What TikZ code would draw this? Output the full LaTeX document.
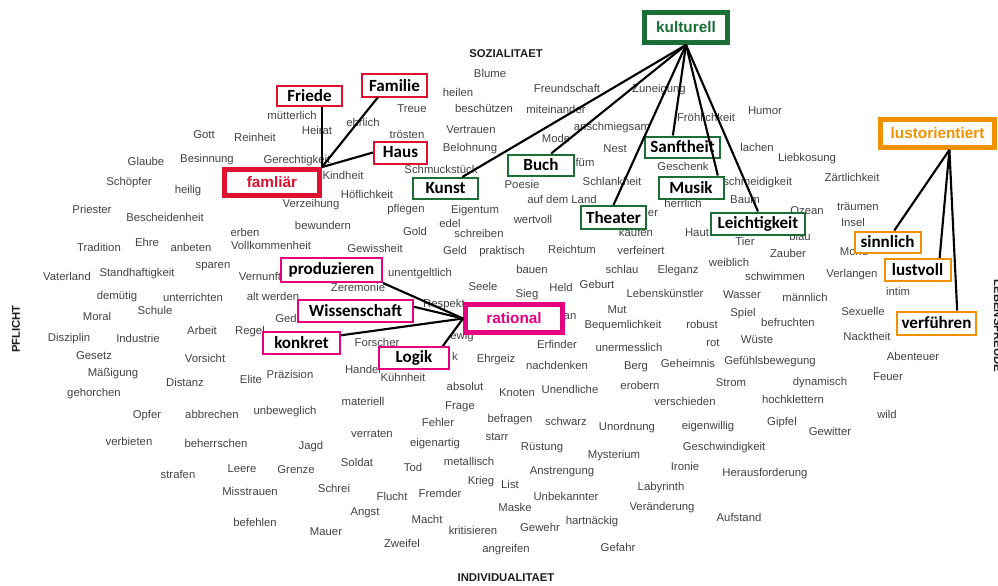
\documentclass[tikz,border=0pt]{standalone}
\usepackage{fontspec}
\setmainfont{Liberation Sans}
\newfontfamily\labfont{Carlito}
\usetikzlibrary{calc}
\definecolor{wgrey}{RGB}{66,66,66}
\definecolor{hdr}{RGB}{30,30,30}
\definecolor{kgreen}{RGB}{28,110,55}
\definecolor{fred}{RGB}{222,18,48}
\definecolor{fmag}{RGB}{228,0,128}
\definecolor{forg}{RGB}{240,145,0}
\tikzset{
 w/.style={font=\fontsize{8.5}{9}\selectfont, text=wgrey, inner sep=0pt, text height=6.3pt, text depth=1.8pt},
 hd/.style={font=\bfseries\fontsize{8.5}{9}\selectfont, text=hdr, inner sep=0pt},
 lab/.style n args={3}{draw=#1, fill=white, line width=1.5pt, inner sep=0pt, font=\labfont\bfseries\fontsize{12.8}{14}\selectfont, text=black, minimum width=#2*0.75pt, minimum height=#3*0.75pt},
 big/.style n args={3}{draw=#1, fill=white, line width=3.6pt, inner sep=0pt, font=\bfseries\fontsize{11.5}{13}\selectfont, text=#1, minimum width=#2*0.75pt, minimum height=#3*0.75pt},
 con/.style={line width=1.6pt, black},
}
\begin{document}
\begin{tikzpicture}[x=0.75pt,y=-0.75pt]
\useasboundingbox (0,0) rectangle (998,585);
% headers
\node[hd] (h1) at (506,54) {SOZIALITAET};
\node[hd] (h2) at (506,578) {INDIVIDUALITAET};
\node[hd,rotate=90] (h3) at (16,329) {PFLICHT};
\node[hd,rotate=-90] (h4) at (998,326) {LEBENSFREUDE};
% words
\node[w] (w1) at (490,75) {Blume};
\node[w] (w2) at (458,93) {heilen};
\node[w] (w3) at (567,89) {Freundschaft};
\node[w] (w4) at (659,90) {Zuneigung};
\node[w] (w5) at (484,109) {beschützen};
\node[w] (w6) at (556,110) {miteinander};
\node[w] (w7) at (412,109) {Treue};
\node[w] (w8) at (292,116) {mütterlich};
\node[w] (w9) at (317,131) {Heirat};
\node[w] (w10) at (363,123) {ehrlich};
\node[w] (w11) at (471,130) {Vertrauen};
\node[w] (w12) at (612,127) {anschmiegsam};
\node[w] (w13) at (706,118) {Fröhlichkeit};
\node[w] (w14) at (765,111) {Humor};
\node[w] (w15) at (204,135) {Gott};
\node[w] (w16) at (255,138) {Reinheit};
\node[w] (w17) at (407,135) {trösten};
\node[w] (w18) at (470,148) {Belohnung};
\node[w] (w19) at (556,139) {Mode};
\node[w] (w20) at (615,149) {Nest};
\node[w] (w21) at (757,148) {lachen};
\node[w] (w22) at (807,158) {Liebkosung};
\node[w] (w23) at (146,162) {Glaube};
\node[w] (w24) at (207,159) {Besinnung};
\node[w] (w25) at (297,160) {Gerechtigkeit};
\node[w] (w26) at (441,170) {Schmuckstück};
\node[w] (w27) at (585,163) {füm};
\node[w] (w28) at (683,167) {Geschenk};
\node[w] (w29) at (852,178) {Zärtlichkeit};
\node[w] (w30) at (129,182) {Schöpfer};
\node[w] (w31) at (188,190) {heilig};
\node[w] (w32) at (343,176) {Kindheit};
\node[w] (w33) at (367,195) {Höflichkeit};
\node[w] (w34) at (522,185) {Poesie};
\node[w] (w35) at (612,182) {Schlankheit};
\node[w,anchor=west] (w36) at (723,182) {schmeidigkeit};
\node[w] (w37) at (92,210) {Priester};
\node[w] (w38) at (165,218) {Bescheidenheit};
\node[w] (w39) at (311,204) {Verzeihung};
\node[w] (w40) at (406,209) {pflegen};
\node[w] (w41) at (475,210) {Eigentum};
\node[w] (w42) at (562,200) {auf dem Land};
\node[w] (w43) at (533,220) {wertvoll};
\node[w] (w44) at (450,224) {edel};
\node[w] (w45) at (745,200) {Baum};
\node[w] (w46) at (683,204) {herrlich};
\node[w] (w47) at (807,211) {Ozean};
\node[w] (w48) at (858,207) {träumen};
\node[w] (w49) at (853,223) {Insel};
\node[w] (w50) at (800,237) {blau};
\node[w] (w51) at (745,242) {Tier};
\node[w] (w52) at (788,254) {Zauber};
\node[w] (w53) at (854,252) {Mond};
\node[w] (w54) at (729,263) {weiblich};
\node[w] (w55) at (775,277) {schwimmen};
\node[w] (w56) at (852,274) {Verlangen};
\node[w] (w57) at (898,292) {intim};
\node[w] (w58) at (742,295) {Wasser};
\node[w] (w59) at (805,298) {männlich};
\node[w] (w60) at (863,312) {Sexuelle};
\node[w] (w61) at (743,313) {Spiel};
\node[w] (w62) at (788,323) {befruchten};
\node[w] (w63) at (757,340) {Wüste};
\node[w] (w64) at (867,337) {Nacktheit};
\node[w] (w65) at (913,357) {Abenteuer};
\node[w] (w66) at (770,361) {Gefühlsbewegung};
\node[w] (w67) at (888,377) {Feuer};
\node[w] (w68) at (731,383) {Strom};
\node[w] (w69) at (820,382) {dynamisch};
\node[w] (w70) at (793,400) {hochklettern};
\node[w] (w71) at (887,415) {wild};
\node[w] (w72) at (782,422) {Gipfel};
\node[w] (w73) at (830,432) {Gewitter};
\node[w] (w74) at (708,426) {eigenwillig};
\node[w] (w75) at (724,447) {Geschwindigkeit};
\node[w] (w76) at (765,473) {Herausforderung};
\node[w] (w77) at (739,518) {Aufstand};
\node[w] (w78) at (245,233) {erben};
\node[w] (w79) at (323,226) {bewundern};
\node[w] (w80) at (415,232) {Gold};
\node[w] (w81) at (479,234) {schreiben};
\node[w] (w82) at (99,248) {Tradition};
\node[w] (w83) at (147,243) {Ehre};
\node[w] (w84) at (191,248) {anbeten};
\node[w] (w85) at (271,246) {Vollkommenheit};
\node[w] (w86) at (375,249) {Gewissheit};
\node[w] (w87) at (455,251) {Geld};
\node[w] (w88) at (502,251) {praktisch};
\node[w] (w89) at (572,250) {Reichtum};
\node[w] (w90) at (641,251) {verfeinert};
\node[w] (w91) at (636,233) {kaufen};
\node[w] (w92) at (697,233) {Haut};
\node[w] (w93) at (653,213) {er};
\node[w] (w94) at (213,265) {sparen};
\node[w] (w95) at (67,277) {Vaterland};
\node[w] (w96) at (137,273) {Standhaftigkeit};
\node[w] (w97) at (260,277) {Vernunft};
\node[w] (w98) at (420,273) {unentgeltlich};
\node[w] (w99) at (483,287) {Seele};
\node[w] (w100) at (532,270) {bauen};
\node[w] (w101) at (622,270) {schlau};
\node[w] (w102) at (678,270) {Eleganz};
\node[w] (w103) at (117,296) {demütig};
\node[w] (w104) at (193,298) {unterrichten};
\node[w] (w105) at (273,297) {alt werden};
\node[w] (w106) at (358,288) {Zeremonie};
\node[w] (w107) at (527,294) {Sieg};
\node[w] (w108) at (561,288) {Held};
\node[w] (w109) at (597,285) {Geburt};
\node[w] (w110) at (665,294) {Lebenskünstler};
\node[w] (w111) at (444,304) {Respekt};
\node[w] (w112) at (155,311) {Schule};
\node[w] (w113) at (97,317) {Moral};
\node[w,anchor=west] (w114) at (275,319) {Ged};
\node[w] (w115) at (617,310) {Mut};
\node[w] (w116) at (570,316) {an};
\node[w] (w117) at (623,325) {Bequemlichkeit};
\node[w] (w118) at (702,325) {robust};
\node[w] (w119) at (713,343) {rot};
\node[w] (w120) at (69,338) {Disziplin};
\node[w] (w121) at (138,339) {Industrie};
\node[w] (w122) at (202,331) {Arbeit};
\node[w] (w123) at (250,331) {Regel};
\node[w] (w124) at (377,343) {Forscher};
\node[w] (w125) at (557,345) {Erfinder};
\node[w] (w126) at (629,348) {unermesslich};
\node[w] (w127) at (462,336) {ewig};
\node[w] (w128) at (455,357) {k};
\node[w] (w129) at (496,359) {Ehrgeiz};
\node[w] (w130) at (557,366) {nachdenken};
\node[w] (w131) at (636,366) {Berg};
\node[w] (w132) at (688,364) {Geheimnis};
\node[w] (w133) at (205,359) {Vorsicht};
\node[w] (w134) at (94,356) {Gesetz};
\node[w] (w135) at (113,373) {Mäßigung};
\node[w] (w136) at (363,370) {Handel};
\node[w] (w137) at (403,378) {Kühnheit};
\node[w] (w138) at (290,375) {Präzision};
\node[w] (w139) at (251,380) {Elite};
\node[w] (w140) at (185,383) {Distanz};
\node[w] (w141) at (94,393) {gehorchen};
\node[w] (w142) at (465,387) {absolut};
\node[w] (w143) at (517,393) {Knoten};
\node[w] (w144) at (570,390) {Unendliche};
\node[w] (w145) at (640,386) {erobern};
\node[w] (w146) at (685,402) {verschieden};
\node[w] (w147) at (363,402) {materiell};
\node[w] (w148) at (285,411) {unbeweglich};
\node[w] (w149) at (460,406) {Frage};
\node[w] (w150) at (147,415) {Opfer};
\node[w] (w151) at (212,415) {abbrechen};
\node[w] (w152) at (438,423) {Fehler};
\node[w] (w153) at (510,419) {befragen};
\node[w] (w154) at (566,422) {schwarz};
\node[w] (w155) at (627,427) {Unordnung};
\node[w] (w156) at (129,442) {verbieten};
\node[w] (w157) at (216,444) {beherrschen};
\node[w] (w158) at (372,434) {verraten};
\node[w] (w159) at (435,443) {eigenartig};
\node[w] (w160) at (497,437) {starr};
\node[w] (w161) at (311,446) {Jagd};
\node[w] (w162) at (542,447) {Rüstung};
\node[w] (w163) at (614,455) {Mysterium};
\node[w] (w164) at (685,467) {Ironie};
\node[w] (w165) at (178,475) {strafen};
\node[w] (w166) at (242,469) {Leere};
\node[w] (w167) at (296,470) {Grenze};
\node[w] (w168) at (357,463) {Soldat};
\node[w] (w169) at (413,468) {Tod};
\node[w] (w170) at (469,462) {metallisch};
\node[w] (w171) at (562,471) {Anstrengung};
\node[w] (w172) at (481,481) {Krieg};
\node[w] (w173) at (510,485) {List};
\node[w] (w174) at (661,487) {Labyrinth};
\node[w] (w175) at (250,492) {Misstrauen};
\node[w] (w176) at (334,489) {Schrei};
\node[w] (w177) at (392,497) {Flucht};
\node[w] (w178) at (440,494) {Fremder};
\node[w] (w179) at (566,497) {Unbekannter};
\node[w] (w180) at (365,512) {Angst};
\node[w] (w181) at (515,508) {Maske};
\node[w] (w182) at (662,507) {Veränderung};
\node[w] (w183) at (255,523) {befehlen};
\node[w] (w184) at (427,520) {Macht};
\node[w] (w185) at (592,521) {hartnäckig};
\node[w] (w186) at (326,532) {Mauer};
\node[w] (w187) at (473,531) {kritisieren};
\node[w] (w188) at (540,528) {Gewehr};
\node[w] (w189) at (402,544) {Zweifel};
\node[w] (w190) at (506,549) {angreifen};
\node[w] (w191) at (618,548) {Gefahr};
% main boxes
\node[big={kgreen}{83}{30}] (kult) at (686,27.5) {kulturell};
\node[big={fred}{95}{26}] (fam) at (272,182.5) {famliär};
\node[big={fmag}{97}{28}] (rat) at (514,318.5) {rational};
\node[big={forg}{114}{28}] (lust) at (937.5,133.5) {lustorientiert};
% label boxes
\node[lab={fred}{65}{20}] (Friede) at (309.5,95.5) {Friede};
\node[lab={fred}{65}{22}] (Familie) at (394.5,85.5) {Familie};
\node[lab={fred}{53}{22}] (Haus) at (400.5,152.5) {Haus};
\node[lab={kgreen}{65}{21}] (Kunst) at (445.5,188.5) {Kunst};
\node[lab={kgreen}{66}{21}] (Buch) at (541,165) {Buch};
\node[lab={kgreen}{75}{21}] (Sanft) at (682.5,147) {Sanftheit};
\node[lab={kgreen}{65}{22}] (Musik) at (691,187.5) {Musik};
\node[lab={kgreen}{65}{23}] (Theater) at (613.5,217.5) {Theater};
\node[lab={kgreen}{94}{22}] (Leicht) at (758,223.5) {Leichtigkeit};
\node[lab={forg}{66}{21}] (sinn) at (887.5,242) {sinnlich};
\node[lab={forg}{66}{22}] (lustv) at (917.5,270) {lustvoll};
\node[lab={forg}{79}{23}] (verf) at (936.5,323) {verführen};
\node[lab={fmag}{101}{24}] (prod) at (331.5,270) {produzieren};
\node[lab={fmag}{115}{22}] (Wiss) at (355.5,311) {Wissenschaft};
\node[lab={fmag}{77}{22}] (konk) at (301.5,342.5) {konkret};
\node[lab={fmag}{70}{22}] (Logik) at (414,358) {Logik};
% connectors
\draw[con] (fam.north east) -- (fam.north east |- Friede.south);
\draw[con] (fam.north east) -- ($(Familie.south west)!0.25!(Familie.south east)$);
\draw[con] (fam.north east) -- (Haus.west);
\draw[con] (kult.south) -- ($(Kunst.north)!0.5!(Kunst.north east)$);
\draw[con] (kult.south) -- ($(Buch.north)!0.3!(Buch.north east)$);
\draw[con] (kult.south) -- (Theater.north);
\draw[con] (kult.south) -- ($(Sanft.north west)!0.75!(Sanft.north)$);
\draw[con] (kult.south) -- ($(Musik.north)!0.8!(Musik.north east)$);
\draw[con] (kult.south) -- (Leicht.north);
\draw[con] ($(lust.south)!0.2!(lust.south east)$) -- ($(sinn.north)!0.2!(sinn.north east)$);
\draw[con] ($(lust.south)!0.2!(lust.south east)$) -- ($(lustv.north)!0.65!(lustv.north east)$);
\draw[con] ($(lust.south)!0.2!(lust.south east)$) -- ($(verf.north)!0.51!(verf.north east)$);
\draw[con] (rat.west) -- (prod.south east);
\draw[con] (rat.west) -- ($(Wiss.east)!0.35!(Wiss.north east)$);
\draw[con] (rat.west) -- ($(konk.east)!0.6!(konk.north east)$);
\draw[con] (rat.west) -- ($(Logik.north)!0.8!(Logik.north east)$);
\end{tikzpicture}
\end{document}
